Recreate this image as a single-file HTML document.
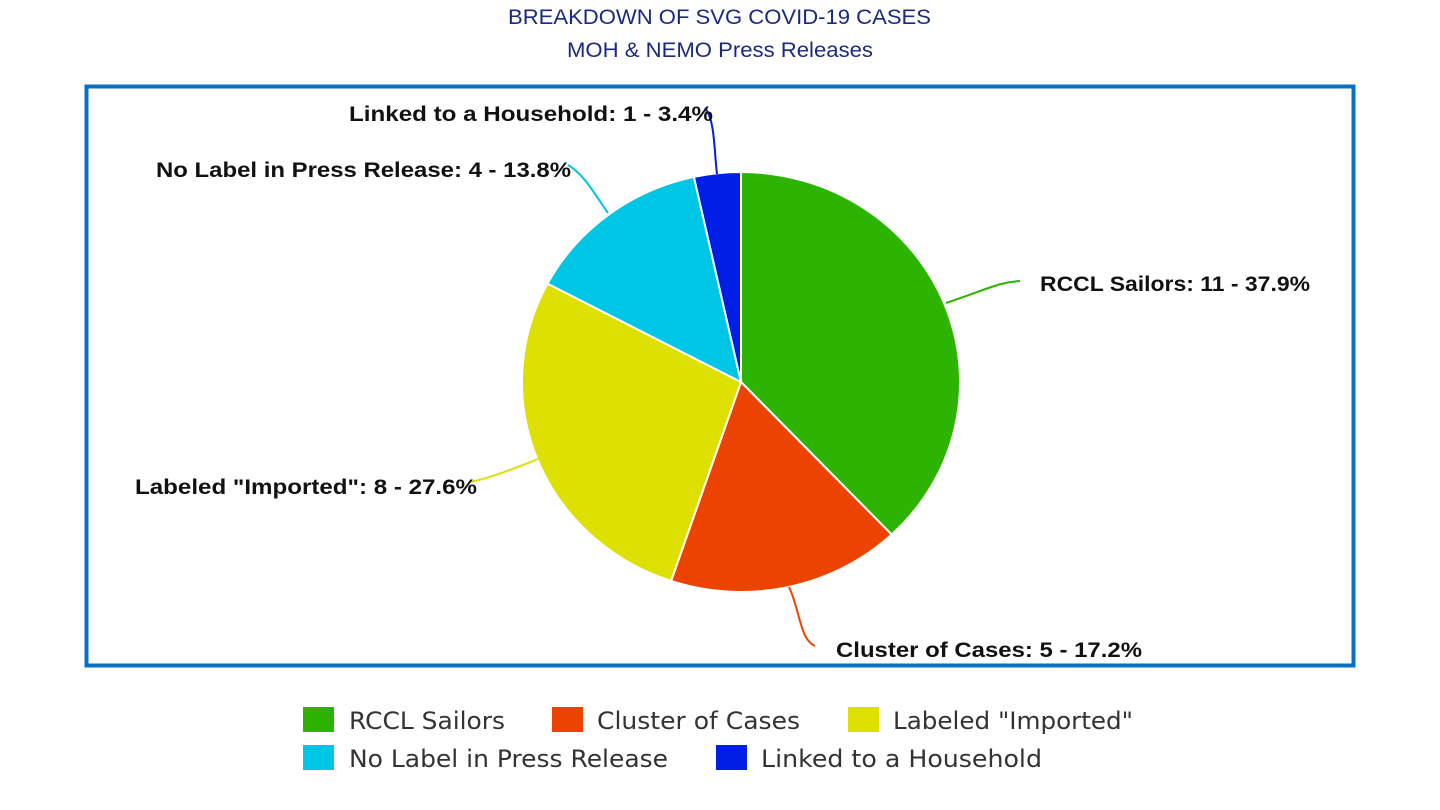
<!DOCTYPE html>
<html><head><style>
body{margin:0;background:#fff;}
svg{display:block;}
.lb{font-family:"Liberation Sans",sans-serif;font-weight:bold;font-size:21px;fill:#111;}
.lg{font-family:"DejaVu Sans",sans-serif;font-size:24px;fill:#333;}
.t{font-family:"Liberation Sans",sans-serif;font-size:21px;fill:#1a2a80;}
</style></head><body>
<svg width="1440" height="810" viewBox="0 0 1440 810">
<text class="t" x="508" y="24" textLength="423" lengthAdjust="spacingAndGlyphs">BREAKDOWN OF SVG COVID-19 CASES</text>
<text class="t" x="567" y="57" textLength="306" lengthAdjust="spacingAndGlyphs">MOH &amp; NEMO Press Releases</text>
<rect x="86.5" y="86.5" width="1267" height="579" fill="none" stroke="#0a70c4" stroke-width="4"/>
<g stroke="#fff" stroke-width="2">
<path d="M741,382 L741,172 A219,210 0 0 1 891.6,534.5 Z" fill="#2db400"/>
<path d="M741,382 L891.6,534.5 A219,210 0 0 1 671.1,581 Z" fill="#ec4300"/>
<path d="M741,382 L671.1,581 A219,210 0 0 1 547.5,283.6 Z" fill="#dde000"/>
<path d="M741,382 L547.5,283.6 A219,210 0 0 1 693.9,176.9 Z" fill="#00c6e6"/>
<path d="M741,382 L693.9,176.9 A219,210 0 0 1 741,172 Z" fill="#001ee6"/>
</g>
<g fill="none" stroke-width="2">
<path d="M946,303 C990,288 1000,282 1020,281" stroke="#2db400"/>
<path d="M789,587 C800,610 800,640 815,646" stroke="#ec4300"/>
<path d="M538,459 C510,470 490,478 470,482" stroke="#dde000"/>
<path d="M608,213 C595,195 585,175 568,165" stroke="#00c6e6"/>
<path d="M717,174 C714,150 715,120 705,108" stroke="#001ee6"/>
</g>
<text class="lb" x="1040" y="291" textLength="270" lengthAdjust="spacingAndGlyphs">RCCL Sailors: 11 - 37.9%</text>
<text class="lb" x="836" y="657" textLength="306" lengthAdjust="spacingAndGlyphs">Cluster of Cases: 5 - 17.2%</text>
<text class="lb" x="135" y="494" textLength="342" lengthAdjust="spacingAndGlyphs">Labeled "Imported": 8 - 27.6%</text>
<text class="lb" x="156" y="177" textLength="415" lengthAdjust="spacingAndGlyphs">No Label in Press Release: 4 - 13.8%</text>
<text class="lb" x="349" y="121" textLength="364" lengthAdjust="spacingAndGlyphs">Linked to a Household: 1 - 3.4%</text>
<rect x="303" y="707" width="31" height="25" fill="#2db400"/>
<text class="lg" x="349" y="729" textLength="156" lengthAdjust="spacingAndGlyphs">RCCL Sailors</text>
<rect x="552" y="707" width="31" height="25" fill="#ec4300"/>
<text class="lg" x="597" y="729" textLength="203" lengthAdjust="spacingAndGlyphs">Cluster of Cases</text>
<rect x="848" y="707" width="31" height="25" fill="#dde000"/>
<text class="lg" x="893" y="729" textLength="240" lengthAdjust="spacingAndGlyphs">Labeled "Imported"</text>
<rect x="303" y="745" width="31" height="25" fill="#00c6e6"/>
<text class="lg" x="349" y="767" textLength="319" lengthAdjust="spacingAndGlyphs">No Label in Press Release</text>
<rect x="716" y="745" width="31" height="25" fill="#001ee6"/>
<text class="lg" x="761" y="767" textLength="281" lengthAdjust="spacingAndGlyphs">Linked to a Household</text>
</svg>
</body></html>
